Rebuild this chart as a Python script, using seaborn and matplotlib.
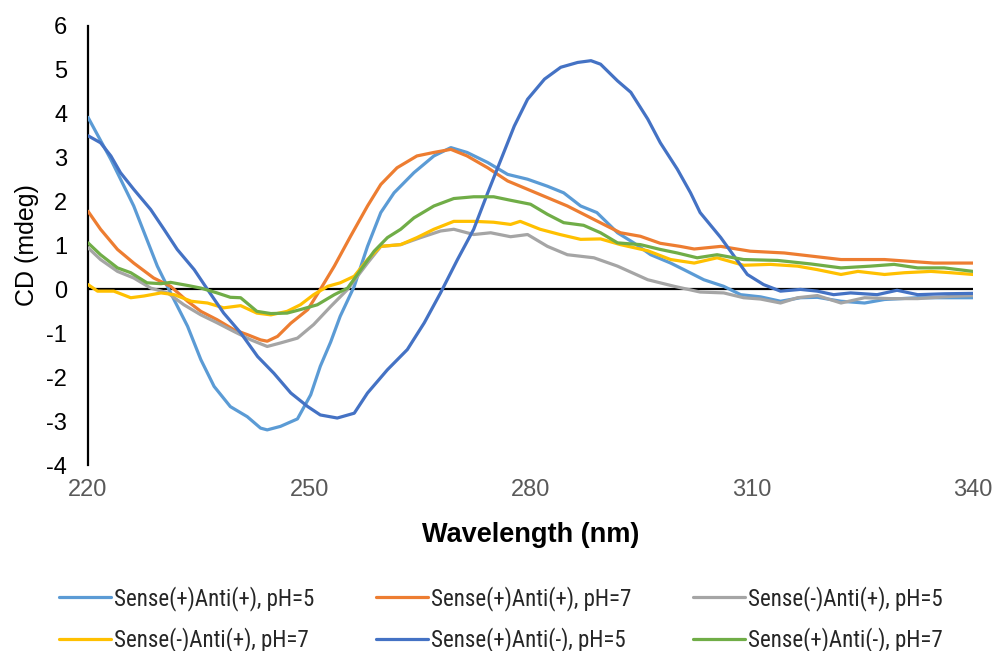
import matplotlib
matplotlib.use("Agg")
import matplotlib.pyplot as plt
from matplotlib import font_manager as fm
import seaborn as sns
import pandas as pd

# ---------------- data ----------------
labels = ["Sense(+)Anti(+), pH=5", "Sense(+)Anti(+), pH=7", "Sense(-)Anti(+), pH=5",
          "Sense(-)Anti(+), pH=7", "Sense(+)Anti(-), pH=5", "Sense(+)Anti(-), pH=7"]
colors = ["#5B9BD5", "#ED7D31", "#A5A5A5", "#FFC000", "#4472C4", "#70AD47"]

x_pp5 = [220, 223.1, 226.2, 229.4, 231.2, 233.5, 235.3, 237.1, 239.3, 241.6, 243.4, 244.3, 246.1, 248.4,
         250.2, 251.5, 252.9, 254.2, 256.1, 257.9, 259.7, 261.5, 264.2, 266.9, 269.2, 271.4, 274.2, 276.9,
         279.6, 282.3, 284.5, 286.8, 289.0, 291.8, 294.0, 296.3, 299.0, 300.8, 303.5, 306.2, 308.5, 311.2,
         313.9, 316.6, 318.9, 322.1, 325.3, 328.0, 332.5, 337.0, 340]
y_pp5 = [3.92, 2.96, 1.90, 0.53, -0.08, -0.84, -1.60, -2.21, -2.67, -2.90, -3.16, -3.20, -3.12, -2.95,
         -2.40, -1.75, -1.20, -0.61, 0.07, 0.98, 1.75, 2.20, 2.66, 3.04, 3.23, 3.12, 2.89, 2.62,
         2.51, 2.35, 2.20, 1.90, 1.75, 1.29, 1.06, 0.79, 0.60, 0.45, 0.22, 0.07, -0.12, -0.17,
         -0.27, -0.19, -0.18, -0.27, -0.31, -0.23, -0.19, -0.19, -0.19]

x_pp7 = [220, 221.7, 224.0, 226.2, 228.9, 231.2, 233.5, 235.3, 237.5, 239.8, 241.6, 243.4, 244.3, 245.7,
         247.5, 249.8, 251.5, 253.4, 255.6, 257.9, 259.7, 261.9, 264.6, 266.9, 269.2, 271.4, 274.2, 276.9,
         279.6, 282.3, 285.0, 287.7, 290.4, 292.2, 294.9, 297.6, 300.3, 302.2, 305.8, 309.8, 314.4, 318.0,
         322.1, 328.0, 334.7, 340]
y_pp7 = [1.78, 1.37, 0.91, 0.60, 0.26, 0.07, -0.27, -0.50, -0.69, -0.92, -1.03, -1.15, -1.18, -1.07,
         -0.77, -0.46, 0.0, 0.53, 1.21, 1.90, 2.39, 2.77, 3.04, 3.12, 3.19, 3.04, 2.77, 2.47,
         2.28, 2.09, 1.90, 1.67, 1.44, 1.29, 1.21, 1.05, 0.98, 0.92, 0.98, 0.87, 0.83, 0.76,
         0.68, 0.68, 0.60, 0.60]

x_mp5 = [220, 221.7, 224.0, 226.2, 228.5, 230.8, 233.0, 235.3, 237.5, 239.8, 242.1, 244.3, 246.1, 248.4,
         250.6, 252.9, 255.2, 257.9, 259.7, 262.4, 265.1, 267.8, 269.6, 272.3, 274.6, 277.3, 279.6, 282.3,
         285.0, 288.6, 291.8, 295.9, 299.5, 303.0, 306.2, 308.9, 311.2, 313.9, 316.2, 318.9, 322.1, 325.3,
         328.9, 332.5, 337.0, 340]
y_mp5 = [0.95, 0.68, 0.41, 0.26, 0.03, -0.08, -0.35, -0.58, -0.76, -0.96, -1.15, -1.30, -1.22, -1.11,
         -0.80, -0.39, 0.0, 0.60, 0.98, 1.02, 1.18, 1.33, 1.37, 1.25, 1.29, 1.20, 1.25, 0.98,
         0.79, 0.72, 0.53, 0.22, 0.07, -0.06, -0.08, -0.19, -0.22, -0.31, -0.19, -0.14, -0.31, -0.19,
         -0.21, -0.21, -0.16, -0.14]

x_mp7 = [220, 221.3, 223.5, 225.8, 227.6, 229.9, 231.7, 234.0, 236.2, 238.4, 240.7, 242.9, 244.8, 247.0,
         248.8, 250.6, 252.5, 254.2, 256.1, 257.9, 259.7, 262.4, 264.6, 266.9, 269.6, 272.3, 275.0, 277.3,
         278.6, 281.3, 284.0, 286.8, 289.5, 292.2, 295.9, 299.0, 302.2, 305.3, 308.9, 312.5, 316.2, 318.9,
         322.1, 324.4, 328.0, 330.7, 334.3, 337.0, 340]
y_mp7 = [0.11, -0.04, -0.04, -0.19, -0.15, -0.08, -0.12, -0.27, -0.31, -0.42, -0.37, -0.54, -0.58, -0.50,
         -0.35, -0.12, 0.07, 0.15, 0.30, 0.68, 0.98, 1.02, 1.18, 1.37, 1.55, 1.55, 1.53, 1.48,
         1.55, 1.37, 1.25, 1.14, 1.15, 1.02, 0.88, 0.68, 0.60, 0.72, 0.55, 0.57, 0.53, 0.45,
         0.34, 0.41, 0.34, 0.38, 0.41, 0.38, 0.34]

x_pm5 = [220, 221.7, 223.1, 224.4, 226.2, 228.5, 230.3, 232.1, 234.4, 236.2, 238.4, 240.7, 243.0, 245.2,
         247.5, 249.8, 251.5, 253.8, 256.1, 257.9, 260.6, 263.3, 265.6, 267.8, 270.1, 272.3, 274.2, 276.0,
         277.8, 279.6, 281.9, 284.1, 286.4, 288.2, 289.5, 291.8, 293.6, 295.9, 297.6, 299.9, 301.7, 303.0,
         305.8, 307.6, 309.4, 311.6, 313.9, 316.6, 318.9, 321.1, 323.4, 327.0, 329.7, 332.5, 336.1, 340]
y_pm5 = [3.50, 3.34, 3.04, 2.66, 2.28, 1.82, 1.37, 0.91, 0.45, 0.0, -0.54, -0.99, -1.53, -1.91,
         -2.36, -2.67, -2.86, -2.93, -2.82, -2.36, -1.83, -1.37, -0.76, -0.08, 0.68, 1.37, 2.20, 2.96,
         3.72, 4.33, 4.79, 5.06, 5.17, 5.21, 5.13, 4.75, 4.49, 3.88, 3.34, 2.74, 2.20, 1.75,
         1.18, 0.76, 0.34, 0.11, -0.04, 0.0, -0.04, -0.12, -0.08, -0.12, -0.02, -0.12, -0.10, -0.09]

x_pm7 = [220, 221.7, 224.0, 225.8, 228.0, 229.9, 231.2, 233.5, 235.3, 237.5, 239.3, 240.7, 242.9, 244.8,
         247.0, 248.8, 251.1, 253.4, 255.2, 257.0, 258.8, 260.6, 262.4, 264.2, 266.9, 269.6, 272.3, 275.0,
         277.3, 280.0, 282.3, 284.5, 287.2, 289.5, 291.8, 294.9, 297.6, 299.9, 302.6, 305.3, 308.9, 313.5,
         318.0, 322.1, 326.1, 329.3, 332.5, 336.1, 340]
y_pm7 = [1.06, 0.79, 0.49, 0.38, 0.15, 0.13, 0.16, 0.09, 0.03, -0.08, -0.18, -0.19, -0.50, -0.55,
         -0.54, -0.46, -0.35, -0.12, 0.03, 0.45, 0.87, 1.18, 1.37, 1.63, 1.90, 2.07, 2.11, 2.11,
         2.03, 1.94, 1.71, 1.52, 1.46, 1.29, 1.06, 1.02, 0.91, 0.83, 0.72, 0.79, 0.68, 0.66,
         0.58, 0.49, 0.53, 0.57, 0.49, 0.49, 0.41]

x_ticks = [220, 250, 280, 310, 340]
y_ticks = [-4, -3, -2, -1, 0, 1, 2, 3, 4, 5, 6]

series = [(x_pp5, y_pp5), (x_pp7, y_pp7), (x_mp5, y_mp5),
          (x_mp7, y_mp7), (x_pm5, y_pm5), (x_pm7, y_pm7)]

# ---------------- fonts ----------------
sns.set_style("white")
plt.rcParams['font.family'] = ['Liberation Sans', 'DejaVu Sans']


def find_narrow():
    prefs = ["Liberation Sans Narrow", "Arial Narrow", "Roboto Condensed", "Open Sans Condensed",
             "Noto Sans Condensed", "DejaVu Sans Condensed"]
    fonts = fm.fontManager.ttflist

    def regular(f):
        return f.style == "normal" and f.weight in (400, "normal", "regular", "book")

    for p in prefs:
        for f in fonts:
            if f.name == p and regular(f):
                return f.fname
    for f in fonts:
        if regular(f) and f.stretch in ("condensed", "semi-condensed", "extra-condensed") \
                and f.name.startswith(("Liberation", "Roboto", "Open", "Noto Sans", "DejaVu Sans")):
            return f.fname
    for f in fonts:
        if regular(f) and ("Narrow" in f.name or "Condensed" in f.name) and "Mono" not in f.name \
                and "Serif" not in f.name:
            return f.fname
    return None


narrow_file = find_narrow()
if narrow_file:
    leg_prop = fm.FontProperties(fname=narrow_file, size=16.5)
    leg_kw = dict(handlelength=2.25, handletextpad=0.15, columnspacing=2.7, labelspacing=0.72)
else:
    leg_prop = fm.FontProperties(family=["Liberation Sans", "DejaVu Sans"], size=14)
    leg_kw = dict(handlelength=2.7, handletextpad=0.15, columnspacing=3.3, labelspacing=1.1)

# ---------------- plot ----------------
fig = plt.figure(figsize=(9.97, 6.51), dpi=100)
ax = fig.add_axes([88 / 997, 1 - 465 / 651, (973 - 88) / 997, (465 - 26) / 651])

ax.axhline(0, color="black", lw=1.6, zorder=1)

for (xs, ys), lab, col in zip(series, labels, colors):
    df = pd.DataFrame({"Wavelength": xs, "CD": ys})
    sns.lineplot(data=df, x="Wavelength", y="CD", color=col, lw=2.3, label=lab,
                 ax=ax, zorder=3)

ax.set_xlim(220, 340)
ax.set_ylim(-4, 6)
ax.set_xticks(x_ticks)
ax.set_yticks(y_ticks)
ax.set_xticklabels([str(v) for v in x_ticks], fontsize=17, color="#595959")
ax.set_yticklabels([str(v) for v in y_ticks], fontsize=17, color="black")
ax.tick_params(axis="both", length=0)
ax.tick_params(axis="y", pad=15)
ax.tick_params(axis="x", pad=10)

for s in ["top", "right", "bottom"]:
    ax.spines[s].set_visible(False)
ax.spines["left"].set_color("black")
ax.spines["left"].set_linewidth(1.6)

ax.set_xlabel("Wavelength (nm)", fontsize=19.5, fontweight="bold", color="black", labelpad=15)
ax.set_ylabel("CD (mdeg)", fontsize=18, color="black", labelpad=5)

handles, labs = ax.get_legend_handles_labels()
order = [0, 3, 1, 4, 2, 5]
ax.legend([handles[i] for i in order], [labs[i] for i in order],
          ncol=3, frameon=False, loc="center", bbox_to_anchor=(501 / 997, 1 - 619 / 651),
          bbox_transform=fig.transFigure, prop=leg_prop, borderpad=0, **leg_kw)

fig.savefig("out.png", dpi=100)
